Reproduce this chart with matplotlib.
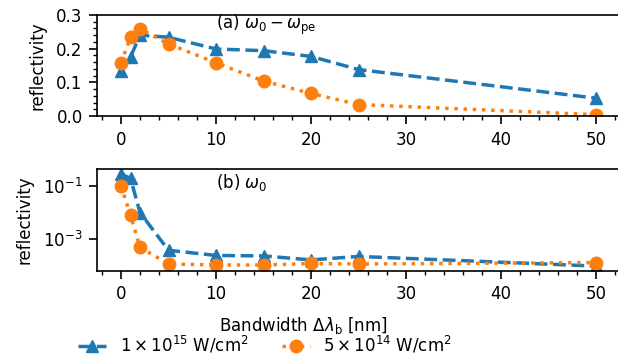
import matplotlib
matplotlib.use('Agg')
import matplotlib.pyplot as plt
from matplotlib import ticker, transforms

plt.rcParams.update({
    'font.size': 12,
    'axes.linewidth': 1.2,
    'xtick.major.size': 5.5,
    'ytick.major.size': 5.5,
    'xtick.minor.size': 3.0,
    'ytick.minor.size': 3.0,
    'xtick.major.width': 1.2,
    'ytick.major.width': 1.2,
    'xtick.minor.width': 1.0,
    'ytick.minor.width': 1.0,
    'xtick.major.pad': 5.0,
    'ytick.major.pad': 5.0,
})

# bandwidth values [nm]
bandwidth = [0, 1, 2, 5, 10, 15, 20, 25, 50]

# (a) reflectivity at omega_0 - omega_pe
refl_a_1e15 = [0.135, 0.175, 0.240, 0.234, 0.199, 0.194, 0.177, 0.138, 0.053]
refl_a_5e14 = [0.158, 0.234, 0.259, 0.214, 0.158, 0.104, 0.067, 0.034, 0.004]

# (b) reflectivity at omega_0
refl_b_1e15 = [0.28, 0.19, 0.010, 3.9e-4, 2.5e-4, 2.4e-4, 1.7e-4, 2.3e-4, 1.0e-4]
refl_b_5e14 = [0.10, 8e-3, 5e-4, 1.2e-4, 1.1e-4, 1.1e-4, 1.25e-4, 1.2e-4, 1.35e-4]

labels = [r'$1\times10^{15}$ W/cm$^2$', r'$5\times10^{14}$ W/cm$^2$']

BLUE = '#1f77b4'
ORANGE = '#ff7f0e'

W, H = 618, 360
fig = plt.figure(figsize=(W / 100, H / 100), dpi=100)

left = 97.25 / W
width = (619.75 - 97.25) / W
ax1 = fig.add_axes([left, 1 - 116 / H, width, (116 - 15) / H])
ax2 = fig.add_axes([left, 1 - 270.7 / H, width, (270.7 - 169.3) / H])

style_1e15 = dict(color=BLUE, ls='--', lw=2.5, marker='^', ms=9)
style_5e14 = dict(color=ORANGE, ls=':', lw=2.5, marker='o', ms=9)

# (a) panel
l1, = ax1.plot(bandwidth, refl_a_1e15, label=labels[0], **style_1e15)
l2, = ax1.plot(bandwidth, refl_a_5e14, label=labels[1], **style_5e14)
ax1.set_ylim(0, 0.3)
ax1.set_ylabel('reflectivity', labelpad=7)
ax1.minorticks_on()
ax1.text(10, 0.27, r'(a) $\omega_0-\omega_\mathrm{pe}$', va='center', ha='left')

# (b) panel
ax2.plot(bandwidth, refl_b_1e15, **style_1e15)
ax2.plot(bandwidth, refl_b_5e14, **style_5e14)
ax2.set_yscale('log')
ax2.set_ylabel('reflectivity', labelpad=7)
ax2.minorticks_on()
ax2.yaxis.set_minor_locator(ticker.NullLocator())
ax2.text(10, 0.865, r'(b) $\omega_0$', va='center', ha='left',
         transform=transforms.blended_transform_factory(ax2.transData, ax2.transAxes))

fig.text(303 / W, 1 - 325 / H, r'Bandwidth $\Delta\lambda_\mathrm{b}$ [nm]',
         ha='center', va='center')

fig.legend(handles=[l1, l2], loc='center', bbox_to_anchor=(265 / W, 1 - 345 / H),
           ncol=2, frameon=False, columnspacing=2.0, handlelength=1.7)

fig.savefig('out.png', dpi=100)
